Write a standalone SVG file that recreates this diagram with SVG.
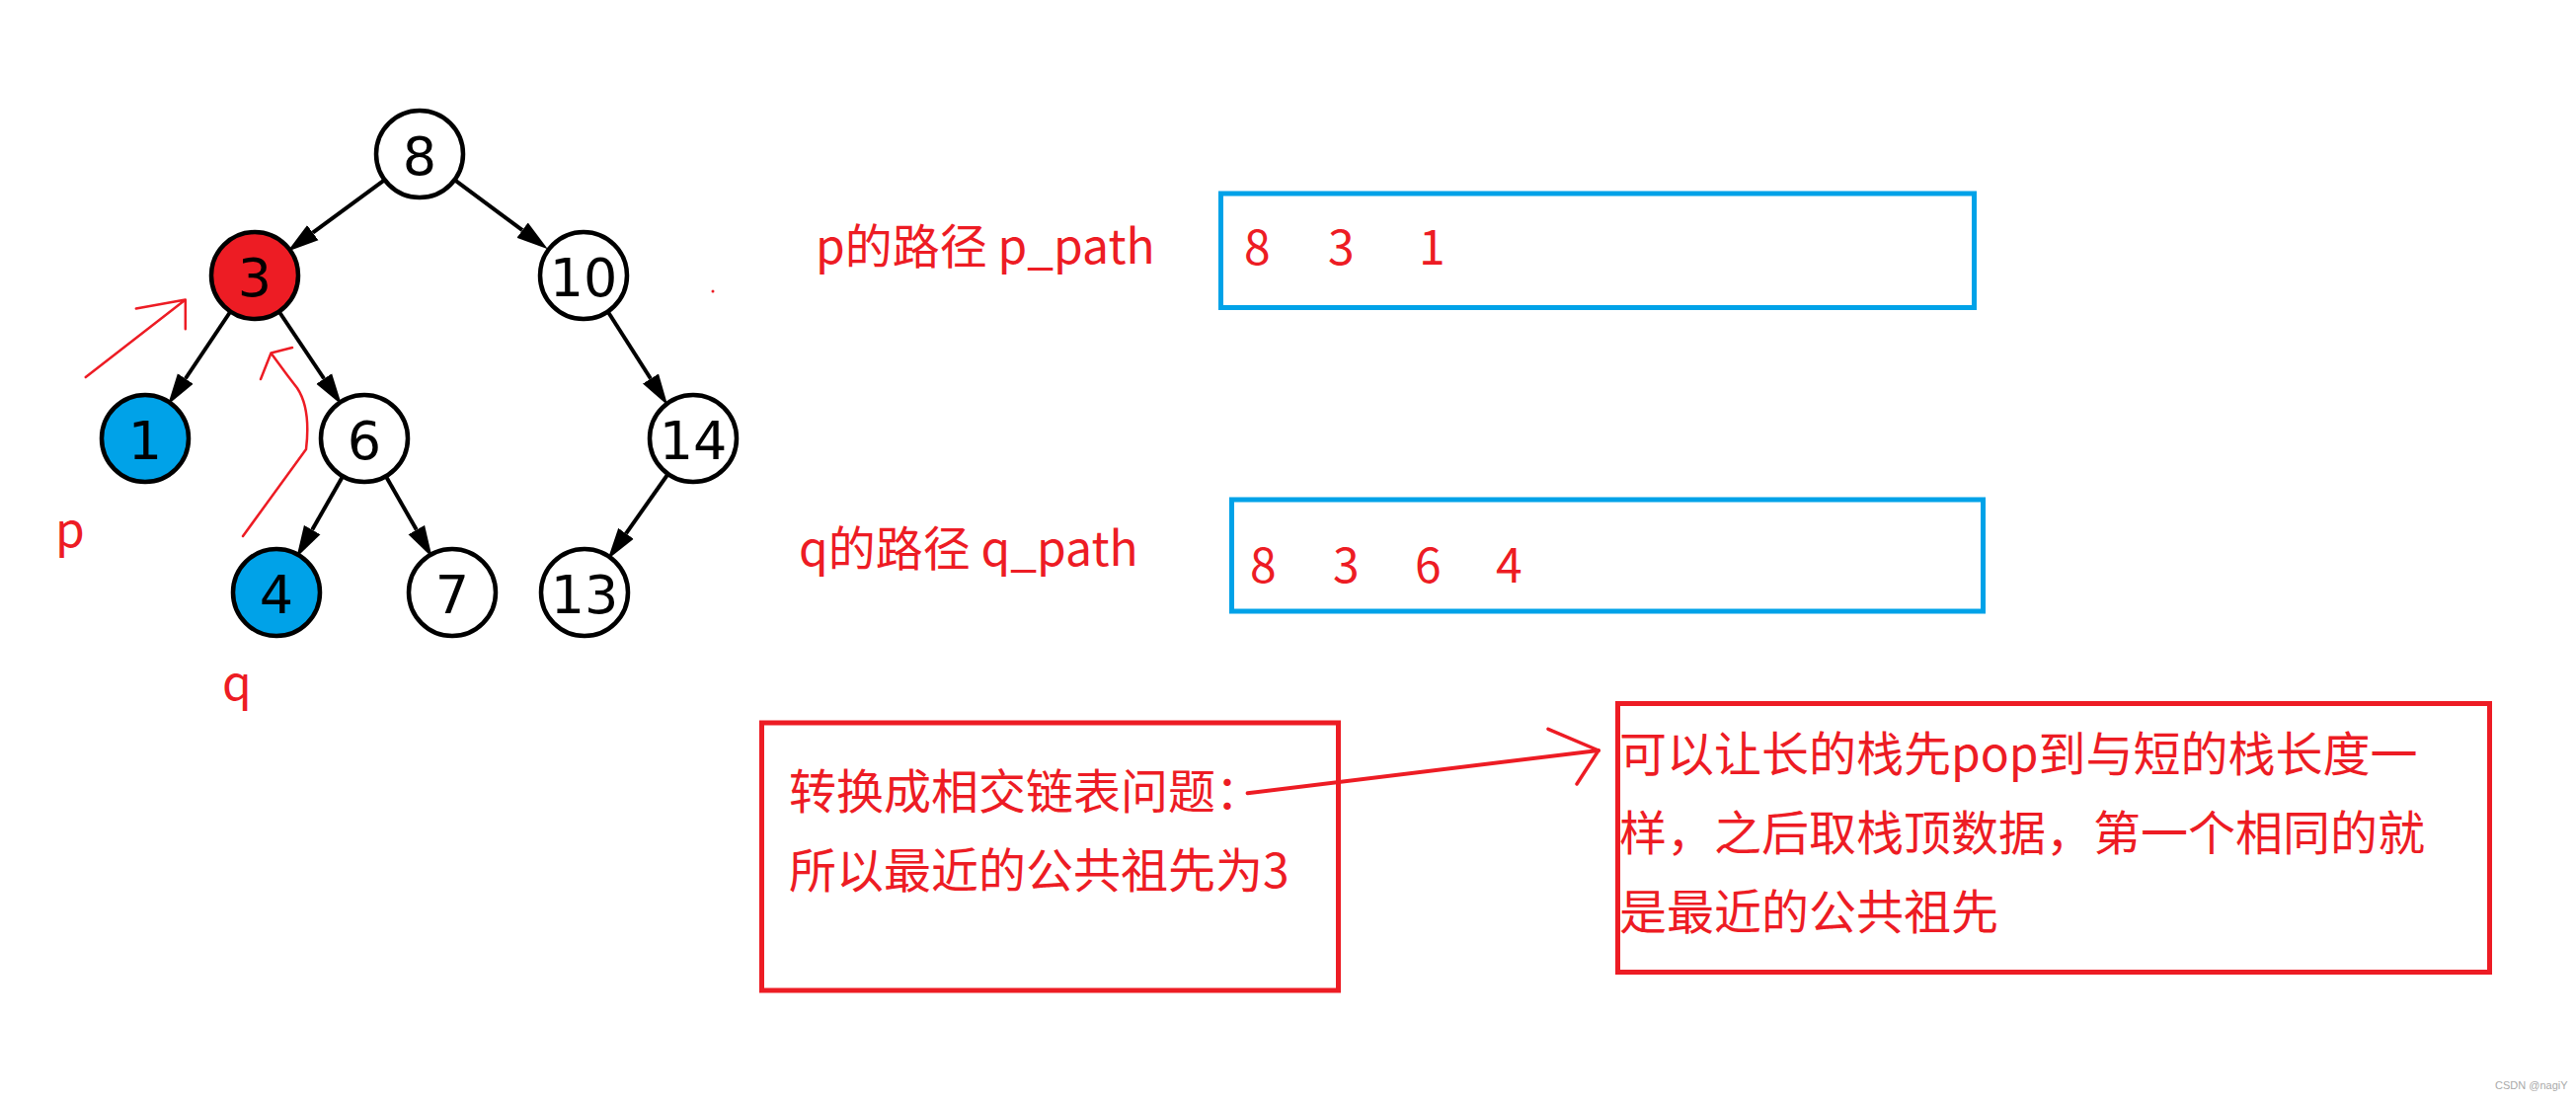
<svg xmlns="http://www.w3.org/2000/svg" width="2609" height="1115" viewBox="0 0 2609 1115">
<style>
.node circle{stroke:#000;stroke-width:4.5}
.node text{font-family:"DejaVu Sans",sans-serif;font-size:54px;text-anchor:middle;fill:#000}
.edge{stroke:#000;stroke-width:4;fill:none;marker-end:url(#ah)}
.lbl{font-family:"Noto Sans CJK SC","Noto Sans",sans-serif;font-size:48px;fill:#ED1C24}
.blue{fill:none;stroke:#00A2E8;stroke-width:5}
.redbox{fill:none;stroke:#ED1C24;stroke-width:5}
.ann{fill:none;stroke:#ED1C24;stroke-width:2.5;stroke-linecap:round;stroke-linejoin:round}
</style>
<defs>
<marker id="ah" markerUnits="userSpaceOnUse" viewBox="0 -10 32 20" refX="0" refY="0" markerWidth="32" markerHeight="20" orient="auto">
<path d="M0,-9.5 L32,0 L0,9.5 z" fill="#000"/>
</marker>
</defs>
<rect width="2609" height="1115" fill="#fff"/>
<g id="connectors">
<path class="edge" d="M389.6,182.1 L316.8,235.7"/>
<path class="edge" d="M460.4,182.2 L529.1,233.1"/>
<path class="edge" d="M233.4,315.5 L187.8,383.5"/>
<path class="edge" d="M282.6,315.5 L328.2,383.5"/>
<path class="edge" d="M615.6,315.5 L659,383.5"/>
<path class="edge" d="M347.2,482.2 L316.2,536.6"/>
<path class="edge" d="M390.8,482.2 L421.8,536.6"/>
<path class="edge" d="M676.6,480 L634,540.3"/>
</g>
<g id="n8" class="node"><circle cx="425" cy="156" r="44" fill="#fff"/><text x="425" y="177">8</text></g>
<g id="n3" class="node"><circle cx="258" cy="279" r="44" fill="#ED1C24"/><text x="258" y="300">3</text></g>
<g id="n10" class="node"><circle cx="591" cy="279" r="44" fill="#fff"/><text x="591" y="300">10</text></g>
<g id="n1" class="node"><circle cx="147" cy="444" r="44" fill="#00A2E8"/><text x="147" y="465">1</text></g>
<g id="n6" class="node"><circle cx="369" cy="444" r="44" fill="#fff"/><text x="369" y="465">6</text></g>
<g id="n14" class="node"><circle cx="702" cy="444" r="44" fill="#fff"/><text x="702" y="465">14</text></g>
<g id="n4" class="node"><circle cx="280" cy="600" r="44" fill="#00A2E8"/><text x="280" y="621">4</text></g>
<g id="n7" class="node"><circle cx="458" cy="600" r="44" fill="#fff"/><text x="458" y="621">7</text></g>
<g id="n13" class="node"><circle cx="592" cy="600" r="44" fill="#fff"/><text x="592" y="621">13</text></g>
<g id="annotations">
<path class="ann" d="M86.7,382 L187.8,303.5 M137.8,312.6 L187.8,303.5 L187.8,333.3"/>
<path class="ann" d="M246,543 L310,455 C313,430 311,408 301,393 L291,380 L275.5,359 M264,384 L274.5,357.5 L296,352"/>
<text class="lbl" x="56" y="554">p</text>
<text class="lbl" x="225" y="709">q</text>
<circle cx="722" cy="295" r="1.5" fill="#ED1C24"/>
</g>
<g id="p_path">
<text class="lbl" x="826" y="267">p的路径 p_path</text>
<rect class="blue" x="1236.5" y="196" width="763" height="115.5"/>
<text class="lbl" y="268"><tspan x="1260">8</tspan><tspan x="1345">3</tspan><tspan x="1437">1</tspan></text>
</g>
<g id="q_path">
<text class="lbl" x="809" y="573">q的路径 q_path</text>
<rect class="blue" x="1247.5" y="506" width="761" height="113"/>
<text class="lbl" y="590"><tspan x="1266">8</tspan><tspan x="1350">3</tspan><tspan x="1433">6</tspan><tspan x="1515">4</tspan></text>
</g>
<g id="box_left">
<rect class="redbox" x="771.5" y="732" width="584" height="271"/>
<text class="lbl" x="799" y="819">转换成相交链表问题：</text>
<text class="lbl" x="799" y="899">所以最近的公共祖先为3</text>
</g>
<g id="arrow_between">
<path d="M1263.6,803.3 L1619,760" fill="none" stroke="#ED1C24" stroke-width="4" stroke-linecap="round"/>
<path d="M1568,738.3 L1619,760 L1597,794" fill="none" stroke="#ED1C24" stroke-width="3.5" stroke-linecap="round" stroke-linejoin="round"/>
</g>
<g id="box_right">
<rect class="redbox" x="1638.5" y="712.5" width="883" height="272"/>
<text class="lbl" x="1640" y="781">可以让长的栈先pop到与短的栈长度一</text>
<text class="lbl" x="1640" y="861">样，之后取栈顶数据，第一个相同的就</text>
<text class="lbl" x="1640" y="941">是最近的公共祖先</text>
</g>
<text x="2527" y="1103" font-family="Liberation Sans Narrow,Liberation Sans,sans-serif" font-size="11" fill="#aaa">CSDN @nagiY</text>
</svg>
